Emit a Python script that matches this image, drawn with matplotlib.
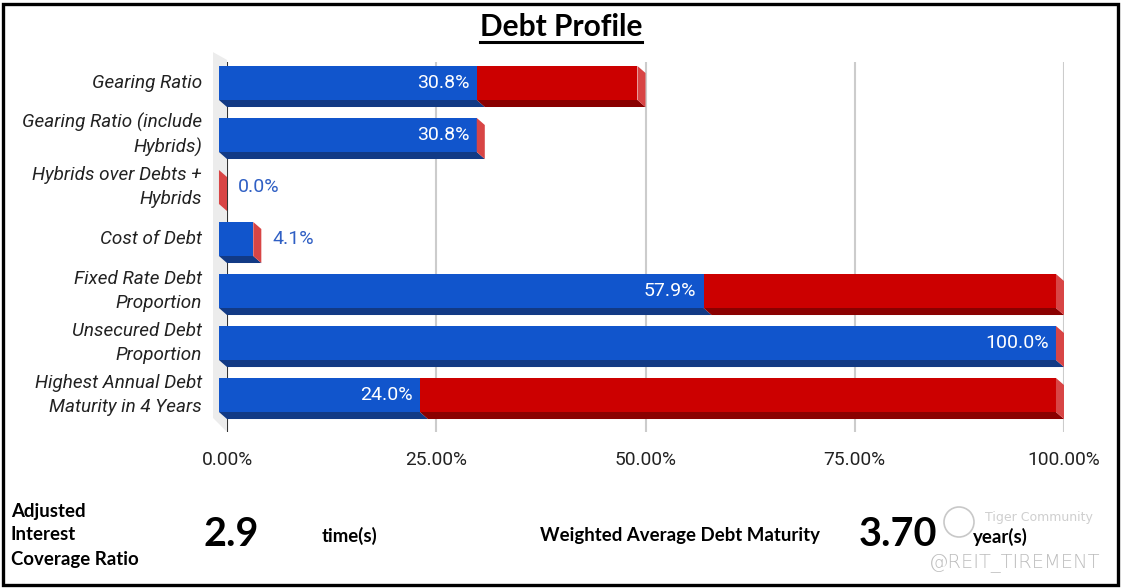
import matplotlib
matplotlib.use("Agg")
import matplotlib.pyplot as plt
from matplotlib.patches import Polygon, Rectangle, Ellipse
from matplotlib.lines import Line2D

# data
categories = ["Gearing Ratio", "Gearing Ratio (include\nHybrids)", "Hybrids over Debts +\nHybrids",
              "Cost of Debt", "Fixed Rate Debt\nProportion", "Unsecured Debt\nProportion",
              "Highest Annual Debt\nMaturity in 4 Years"]
values = [30.8, 30.8, 0.0, 4.1, 57.9, 100.0, 24.0]
remainder = [19.2, 0.0, 0.0, 0.0, 42.1, 0.0, 76.0]
ticks = [0, 25, 50, 75, 100]
tick_labels = ["0.00%", "25.00%", "50.00%", "75.00%", "100.00%"]
icr_value = "2.9"
wadm_value = "3.70"

BLUE, BLUE_DK = "#1155cc", "#123a85"
RED, RED_DK, RED_SIDE = "#cc0000", "#8a0000", "#d84545"

W, H = 1122, 588
fig = plt.figure(figsize=(W / 100, H / 100), dpi=100)
ax = fig.add_axes([227 / W, 1 - 432 / H, 837 / W, 370 / H])
ax.set_xlim(0, 100)
ax.set_ylim(6.644, -0.471)

h = 0.654   # front face height (rows)
dx = 0.96   # depth in x (percent)
dy = 0.135  # depth in y (rows)


def seg(s, e, i, face, bottom):
    top_f = i - h / 2 - dy / 2
    bot_f = i + h / 2 - dy / 2
    ax.add_patch(Polygon([(s - dx, bot_f), (e - dx, bot_f), (e, bot_f + dy), (s, bot_f + dy)],
                         closed=True, fc=bottom, ec="none", zorder=3, clip_on=False))
    ax.add_patch(Rectangle((s - dx, top_f), e - s, h, fc=face, ec="none", zorder=4,
                           clip_on=False))


for i, (v, r) in enumerate(zip(values, remainder)):
    seg(0, v, i, BLUE, BLUE_DK)
    seg(v, v + r, i, RED, RED_DK)
    e = v + r
    top_f = i - h / 2 - dy / 2
    bot_f = i + h / 2 - dy / 2
    ax.add_patch(Polygon([(e - dx, top_f), (e, top_f + dy), (e, bot_f + dy), (e - dx, bot_f)],
                         closed=True, fc=RED_SIDE, ec="none", zorder=4, clip_on=False))
    if v >= 10:
        ax.text(v - dx - 0.85, i - dy / 2, f"{v:.1f}%", ha="right", va="center",
                color="white", fontsize=14, family="Roboto", zorder=5)
    else:
        ax.text(v + 1.3, i - dy / 2, f"{v:.1f}%", ha="left", va="center",
                color="#2f5fc4", fontsize=14, family="Roboto", zorder=5)
    ax.text(-3.0, i - dy / 2, categories[i], ha="right", va="center", fontsize=13.6,
            family="Roboto", style="italic", color="#222222", linespacing=1.38)

# wall on the left
y0, y1 = ax.get_ylim()
ax.add_patch(Polygon([(-1.67, y1 - 0.19), (0, y1 - 0.04), (0, y0), (-1.67, y0 - 0.27)],
                     closed=True, fc="#ececec", ec="none", zorder=0, clip_on=False))

for t in ticks[1:]:
    ax.axvline(t, color="#cccccc", lw=1.5, zorder=1)
ax.axvline(0, color="#333333", lw=1.5, zorder=2)

ax.set_xticks(ticks)
ax.set_xticklabels(tick_labels, fontsize=13.8, family="Roboto", color="#222222")
ax.tick_params(axis="x", length=0, pad=14)
ax.set_yticks([])
for sp in ax.spines.values():
    sp.set_visible(False)
ax.patch.set_alpha(0)

# title with underline
title = fig.text(0.5, 1 - 27 / H, "Debt Profile", ha="center", va="center",
                 fontsize=21.5, family="Lato", weight="bold")
fig.canvas.draw()
bb = title.get_window_extent(fig.canvas.get_renderer()).transformed(fig.transFigure.inverted())
fig.add_artist(Line2D([bb.x0, bb.x1], [1 - 42 / H] * 2, color="black", lw=2.2,
                      transform=fig.transFigure))

# bottom section
bfont = dict(family="Lato", weight="bold", color="black")
fig.text(11 / W, 1 - 535 / H, "Adjusted\nInterest\nCoverage Ratio", ha="left", va="center",
         fontsize=13.4, linespacing=1.5, **bfont)
fig.text(231 / W, 1 - 535 / H, icr_value, ha="center", va="center", fontsize=28.5, **bfont)
fig.text(322 / W, 1 - 536 / H, "time(s)", ha="left", va="center", fontsize=13.4, **bfont)
fig.text(540 / W, 1 - 535 / H, "Weighted Average Debt Maturity", ha="left", va="center",
         fontsize=13.4, **bfont)
fig.text(898 / W, 1 - 535 / H, wadm_value, ha="center", va="center", fontsize=28.5, **bfont)
fig.text(973 / W, 1 - 537 / H, "year(s)", ha="left", va="center", fontsize=13.4, **bfont)

# watermark
fig.text(985 / W, 1 - 518 / H, "Tiger Community", ha="left", va="center", fontsize=9,
         family="DejaVu Sans", color="#cfcfcf")
fig.text(1100 / W, 1 - 563 / H, "@REIT_TIREMENT", ha="right", va="center", fontsize=14,
         family="DejaVu Sans", color="#bdbdbd", weight="light")
fig.add_artist(Ellipse((959 / W, 1 - 522 / H), 30 / W, 30 / H, fill=False,
                       ec="#c8c8c8", lw=1.2, transform=fig.transFigure))

# outer frame
fig.add_artist(Rectangle((3 / W, 3 / H), 1 - 7 / W, 1 - 7 / H, fill=False,
                         ec="black", lw=2.4, transform=fig.transFigure))

fig.savefig("out.png", dpi=100)
